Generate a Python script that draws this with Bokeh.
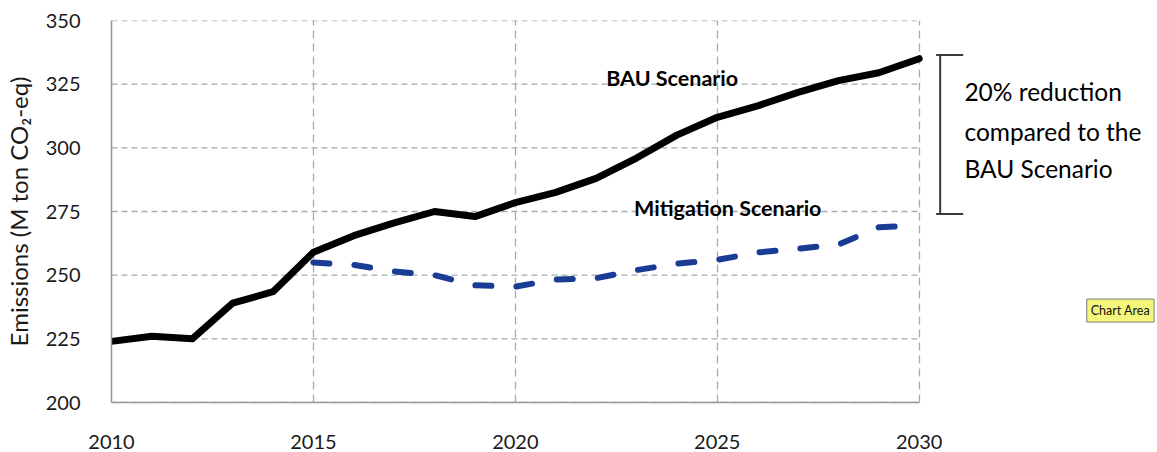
from bokeh.plotting import figure
from bokeh.models import FixedTicker, Label, ColumnDataSource
from bokeh.embed import file_html
from bokeh.resources import INLINE

# ---- data ----
years_bau = list(range(2010, 2031))
bau = [224, 226, 225, 239, 243.5, 259, 265.5, 270.5, 275, 273, 278.5,
       282.5, 288, 296, 305, 312, 316.5, 321.8, 326.4, 329.5, 335]
years_mit = list(range(2015, 2031))
mit = [255, 254, 251.5, 250, 246, 245.5, 248.3, 248.8, 252, 254.5,
       256, 258.9, 260.4, 262, 268.8, 269.5]
x_ticks = [2010, 2015, 2020, 2025, 2030]
y_ticks = [200, 225, 250, 275, 300, 325, 350]
bracket_top = 336.5
bracket_bottom = 274
series_labels = ["BAU Scenario", "Mitigation Scenario"]
note_lines = ["20% reduction", "compared to the", "BAU Scenario"]
y_title = "Emissions (M ton CO₂-eq)"

FONT = "Lato"
W, H = 1155, 452
LEFT, TOP, BOTTOM = 108, 20, 50
frame_w = W - LEFT
x_start, x_end = x_ticks[0], x_ticks[-1]
# frame extends past 2030 so the annotations on the right are not clipped
x_max = x_start + (x_end - x_start) * frame_w / 810.0

p = figure(width=W, height=H, x_range=(x_start, x_max), y_range=(200, 350),
           output_backend="svg", toolbar_location=None,
           min_border_left=LEFT, min_border_right=0,
           min_border_top=TOP, min_border_bottom=BOTTOM)
p.outline_line_color = None
p.background_fill_color = "white"

GRID = "#a3aeaa"
p.xaxis.ticker = FixedTicker(ticks=x_ticks)
p.yaxis.ticker = FixedTicker(ticks=y_ticks)
p.xaxis.bounds = (x_start, x_end)
p.xgrid.grid_line_color = GRID
p.xgrid.grid_line_dash = "8 5"
p.xgrid.grid_line_width = 1.3
p.ygrid.visible = False
# horizontal grid lines limited to the 2010-2030 span
p.segment(x0=[x_start] * len(y_ticks), y0=y_ticks,
          x1=[x_end] * len(y_ticks), y1=y_ticks,
          line_color=GRID, line_dash="6 4", line_width=1.3)

for ax in (p.xaxis, p.yaxis):
    ax.axis_line_color = "#8f9996"
    ax.axis_line_width = 1.5
    ax.major_tick_line_color = None
    ax.minor_tick_line_color = None
    ax.major_label_text_font = FONT
    ax.major_label_text_font_size = "20px"
    ax.major_label_text_color = "#1a1a1a"
p.yaxis.major_label_standoff = 25
p.xaxis.major_label_standoff = 26
p.yaxis.axis_label = y_title
p.yaxis.axis_label_text_font = FONT
p.yaxis.axis_label_text_font_style = "normal"
p.yaxis.axis_label_text_font_size = "24px"
p.yaxis.axis_label_text_color = "#1a1a1a"
p.yaxis.axis_label_standoff = 10

# lines
src_bau = ColumnDataSource(dict(x=years_bau, y=bau))
src_mit = ColumnDataSource(dict(x=years_mit, y=mit))
p.line("x", "y", source=src_bau, line_color="black", line_width=7,
       line_join="round", line_cap="round")
p.line("x", "y", source=src_mit, line_color="#1b3c94", line_width=6,
       line_dash="16 25", line_join="round", line_cap="round")

# series labels
p.add_layout(Label(x=2022.25, y=327.6, text=series_labels[0], text_font=FONT,
                   text_font_style="bold", text_font_size="21.5px",
                   text_baseline="middle", text_color="black"))
p.add_layout(Label(x=2022.94, y=276.2, text=series_labels[1], text_font=FONT,
                   text_font_style="bold", text_font_size="21.5px",
                   text_baseline="middle", text_color="black"))

# bracket
bx, cap0, cap1 = 2030.52, 2030.42, 2031.09
p.segment(x0=[bx, cap0, cap0], y0=[bracket_top, bracket_top, bracket_bottom],
          x1=[bx, cap1, cap1], y1=[bracket_bottom, bracket_top, bracket_bottom],
          line_color="#3a3a3a", line_width=2)

# note text
for txt, yv in zip(note_lines, [322.3, 306.6, 291.7]):
    p.add_layout(Label(x=2031.12, y=yv, text=txt, text_font=FONT,
                       text_font_size="24.5px", text_baseline="middle",
                       text_color="black"))

# Chart Area tooltip
p.add_layout(Label(x=2034.15, y=236.1, text="Chart Area", text_font=FONT,
                   text_font_size="12.5px", text_baseline="middle",
                   text_color="#111111", background_fill_color="#f4f77c",
                   border_line_color="#7a7a7a", padding=4))

open("out.html", "w").write(file_html(p, INLINE))
